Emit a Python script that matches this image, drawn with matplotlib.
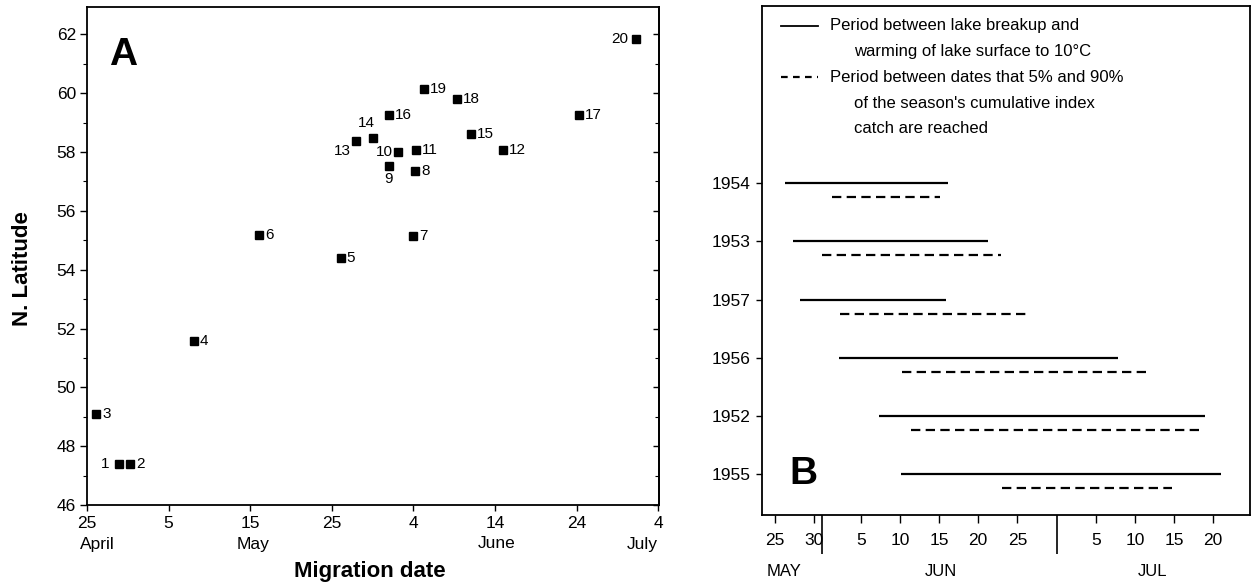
import matplotlib
matplotlib.use("Agg")
import matplotlib.pyplot as plt
from matplotlib.ticker import FixedLocator, MultipleLocator, NullFormatter

plt.rcParams["font.family"] = ["Liberation Sans", "DejaVu Sans"]

# ---------------- Panel A data ----------------
site_ids = list(range(1, 21))
# migration date, days after 25 April
migration_day = [3.9, 5.3, 1.1, 13.1, 31.1, 21.1, 40.0, 40.2, 37.0, 38.1,
                 40.3, 51.0, 33.0, 35.0, 47.1, 37.0, 60.3, 45.3, 41.3, 67.3]
latitude = [47.40, 47.40, 49.10, 51.58, 54.39, 55.18, 55.15, 57.37, 57.53, 58.01,
            58.06, 58.06, 58.37, 58.49, 58.62, 59.26, 59.26, 59.81, 60.15, 61.85]

date_ticks = [0, 10, 20, 30, 40, 50, 60, 70]
date_tick_labels = ["25", "5", "15", "25", "4", "14", "24", "4"]
month_names_a = ["April", "May", "June", "July"]
month_pos_a = [1.3, 20.4, 50.2, 68.0]
lat_ticks = [46, 48, 50, 52, 54, 56, 58, 60, 62]

# ---------------- Panel B data ----------------
# days after 30 April (1 = 1 May, 32 = 1 June, 62 = 1 July)
years = ["1955", "1952", "1956", "1957", "1953", "1954"]
breakup_start = [41.1, 38.3, 33.2, 28.3, 27.3, 26.3]
warm_end = [82.0, 80.0, 68.9, 46.9, 52.2, 47.1]
catch5_start = [54.0, 42.4, 41.3, 33.3, 31.1, 32.4]
catch90_end = [75.7, 79.7, 73.1, 57.1, 53.9, 46.1]

day_ticks_b = [25, 30, 36, 41, 46, 51, 56, 66, 71, 76, 81]
day_tick_labels_b = ["25", "30", "5", "10", "15", "20", "25", "5", "10", "15", "20"]
month_ends_b = [31, 61]
month_names_b = ["MAY", "JUN", "JUL"]
month_pos_b = [26.2, 46.3, 73.3]

legend_solid = ["Period between lake breakup and",
                "warming of lake surface to 10\u00b0C"]
legend_dashed = ["Period between dates that 5% and 90%",
                 "of the season's cumulative index",
                 "catch are reached"]

W, H = 1252, 588
fig = plt.figure(figsize=(W / 100, H / 100), dpi=100)
fig.patch.set_facecolor("white")


def px_axes(left, top, right, bottom):
    return fig.add_axes([left / W, 1 - bottom / H, (right - left) / W, (bottom - top) / H])


# ================= Panel A =================
axA = px_axes(87, 7, 659, 505)
axA.plot(migration_day, latitude, "s", color="black", markersize=5.5, linestyle="none")

# per-site label placement (offset in pixels, alignment)
label_place = {1: (-9, 0, "right", "center"), 9: (0, -13, "center", "center"),
               10: (-5, 0, "right", "center"), 13: (-5, -10, "right", "center"),
               14: (-6, 15, "center", "center"), 20: (-8, 0, "right", "center")}
for sid, x, y in zip(site_ids, migration_day, latitude):
    dx, dy, ha, va = label_place.get(sid, (6, 0, "left", "center"))
    axA.annotate(str(sid), (x, y), xytext=(dx, dy), textcoords="offset pixels",
                 ha=ha, va=va, fontsize=11)

axA.set_xlim(0, 70.1)
axA.set_ylim(46, 62.93)
axA.xaxis.set_major_locator(FixedLocator(date_ticks))
axA.set_xticklabels(date_tick_labels)
axA.yaxis.set_major_locator(FixedLocator(lat_ticks))
axA.yaxis.set_minor_locator(MultipleLocator(1))
axA.tick_params(axis="both", which="major", labelsize=12.5, width=1.0, color="black")
axA.tick_params(axis="x", which="major", direction="out", length=4, pad=4)
axA.tick_params(axis="y", which="major", direction="out", length=5, pad=3)
axA.tick_params(axis="y", which="minor", direction="out", length=3, width=0.8)
for sp in axA.spines.values():
    sp.set_linewidth(1.3)

# small inward ticks along the right frame
axA_right = axA.secondary_yaxis("right")
axA_right.yaxis.set_major_locator(FixedLocator(lat_ticks))
axA_right.yaxis.set_minor_locator(MultipleLocator(1))
axA_right.yaxis.set_major_formatter(NullFormatter())
axA_right.tick_params(which="major", direction="in", length=4, width=1.0)
axA_right.tick_params(which="minor", direction="in", length=3, width=0.8)
axA_right.spines["right"].set_linewidth(1.3)

for name, pos in zip(month_names_a, month_pos_a):
    axA.annotate(name, (pos, 0), xycoords=("data", "axes fraction"),
                 xytext=(0, -39), textcoords="offset pixels",
                 ha="center", va="center", fontsize=12.5)

axA.text(109 / W, 1 - 37 / H, "A", transform=fig.transFigure, fontsize=28,
         fontweight="bold", ha="left", va="top")
fig.text(23 / W, 1 - 269 / H, "N. Latitude", rotation=90, fontsize=16,
         fontweight="bold", ha="center", va="center")
fig.text(370 / W, 1 - 572 / H, "Migration date", fontsize=16,
         fontweight="bold", ha="center", va="center")

# ================= Panel B =================
axB = px_axes(762, 6, 1250, 515)
row = list(range(len(years)))
dash_gap = 0.24
for i, y in enumerate(row):
    axB.plot([breakup_start[i], warm_end[i]], [y, y], color="black", lw=1.6,
             solid_capstyle="butt")
    axB.plot([catch5_start[i], catch90_end[i]], [y - dash_gap, y - dash_gap],
             color="black", lw=1.6, linestyle=(0, (4.2, 2.4)), dash_capstyle="butt")

axB.set_xlim(23.4, 85.7)
axB.set_ylim(-0.705, 8.05)
axB.set_yticks(row)
axB.set_yticklabels(years)
axB.xaxis.set_major_locator(FixedLocator(day_ticks_b))
axB.set_xticklabels(day_tick_labels_b)
axB.xaxis.set_minor_locator(FixedLocator(month_ends_b))
axB.tick_params(axis="both", which="major", labelsize=12.5, width=1.0, color="black")
axB.tick_params(axis="x", which="major", direction="out", length=6, pad=7)
axB.tick_params(axis="x", which="minor", direction="out", length=28, width=1.2)
axB.tick_params(axis="y", which="major", direction="out", length=4, pad=4)
for sp in axB.spines.values():
    sp.set_linewidth(1.3)

for name, pos in zip(month_names_b, month_pos_b):
    axB.annotate(name, (pos, 0), xycoords=("data", "axes fraction"),
                 xytext=(0, -56), textcoords="offset pixels",
                 ha="center", va="center", fontsize=12)

# legend drawn inside the panel
tA = axB.transAxes
axB.plot([0.039, 0.115], [0.961, 0.961], color="black", lw=1.3, transform=tA)
axB.plot([0.039, 0.115], [0.860, 0.860], color="black", lw=1.6, transform=tA,
         linestyle=(0, (3.0, 2.4)), dash_capstyle="butt")
axB.text(0.139, 0.961, legend_solid[0], transform=tA, fontsize=12, va="center", ha="left")
axB.text(0.189, 0.910, legend_solid[1], transform=tA, fontsize=12, va="center", ha="left")
axB.text(0.139, 0.860, legend_dashed[0], transform=tA, fontsize=12, va="center", ha="left")
axB.text(0.189, 0.809, legend_dashed[1], transform=tA, fontsize=12, va="center", ha="left")
axB.text(0.189, 0.760, legend_dashed[2], transform=tA, fontsize=12, va="center", ha="left")

axB.text(789 / W, 1 - 456 / H, "B", transform=fig.transFigure, fontsize=28,
         fontweight="bold", ha="left", va="top")

fig.savefig("out.png", dpi=100, facecolor="white")
